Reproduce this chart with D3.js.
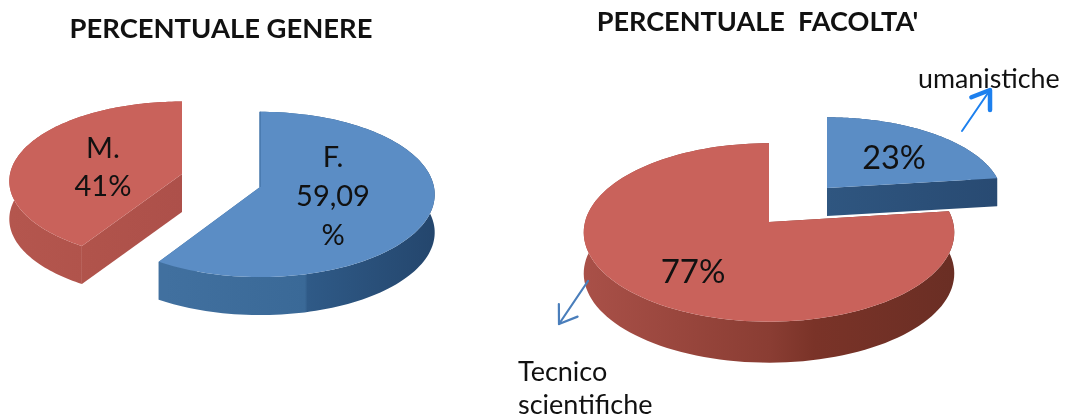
<!DOCTYPE html>
<html><head><meta charset="utf-8">
<script src="https://cdn.jsdelivr.net/npm/d3@7"></script>
<style>html,body{margin:0;background:#fff}svg{display:block;filter:blur(0.45px)}text{font-family:Lato,"Open Sans",sans-serif;fill:#111}</style>
</head><body><svg id="c" width="1065" height="419"></svg>
<script>
const genereCategories = ["F.", "M."];
const genereValues = [59.09, 41];
const genereLabels = [["F.", "59,09", "%"], ["M.", "41%"]];
const facoltaCategories = ["umanistiche", "Tecnico scientifiche"];
const facoltaValues = [23, 77];
const facoltaLabels = [["23%"], ["77%"]];
const titles = ["PERCENTUALE GENERE", "PERCENTUALE  FACOLTA'"];

const svg = d3.select("#c");
const defs = svg.append("defs");
function grad(id, stops, x1, x2) {
  const g = defs.append("linearGradient").attr("id", id).attr("gradientUnits", "userSpaceOnUse")
    .attr("x1", x1).attr("x2", x2).attr("y1", 0).attr("y2", 0);
  stops.forEach(s => g.append("stop").attr("offset", s[0]).attr("stop-color", s[1]));
}
grad("wB", [[0, "#41709f"], [0.52, "#3a6997"], [0.53, "#2f5a87"], [1, "#24466d"]], 165, 434);
grad("wM", [[0, "#b4564e"], [0.5, "#b0534b"], [1, "#ad504a"]], 10, 182);
grad("wN", [[0, "#2f5680"], [1, "#284a72"]], 827, 998);
grad("wR", [[0, "#a95048"], [0.5, "#8a3d33"], [0.62, "#7a3328"], [1, "#6a2e24"]], 584, 956);

const pie = d3.pie().sort(null).startAngle(0).endAngle(2 * Math.PI);
function project(s, a, r) {
  const u = Math.sin(a) * r, v = -Math.cos(a) * r, w = 1 - s.k * v;
  return [s.cx + s.rx * u / w, s.cy + s.ry * v / w];
}
const line = d3.line();
function rim(s, a0, a1) {
  return d3.range(0, 121).map(i => project(s, a0 + (a1 - a0) * i / 120, 1));
}
function drawSlice(arc, s) {
  const top = rim(s, arc.startAngle, arc.endAngle);
  const down = p => [p[0], p[1] + s.depth];
  const apex = [s.cx, s.cy];
  const wall = top.concat(top.slice().reverse().map(down));
  const g = svg.append("g");
  g.append("path").attr("d", line(wall) + "Z").attr("fill", s.wall);
  [top[0], top[top.length - 1]].forEach(e => {
    g.append("path").attr("d", line([apex, e, down(e), down(apex)]) + "Z").attr("fill", s.wall);
  });
  g.append("path").attr("d", line([apex].concat(top)) + "Z").attr("fill", s.top);
  if (s.edge) {
    g.append("path").attr("d", line([apex, top[0]])).attr("stroke", s.edge).attr("stroke-width", 1.5).attr("fill", "none");
  }
}
const genereSlices = [
  {cx: 260, cy: 187, rx: 174, ry: 82, k: 0.09, depth: 38, top: "#5b8dc5", wall: "url(#wB)", edge: "#4576aa"},
  {cx: 182, cy: 174, rx: 172, ry: 79, k: 0.09, depth: 38, top: "#c9625b", wall: "url(#wM)"}
];
const facoltaSlices = [
  {cx: 827, cy: 188, rx: 174, ry: 79, k: 0.117, depth: 28, top: "#5b8dc5", wall: "url(#wN)"},
  {cx: 769, cy: 222, rx: 184, ry: 88, k: 0.117, depth: 41, top: "#c9625b", wall: "url(#wR)"}
];
pie(genereValues).forEach((a, i) => drawSlice(a, genereSlices[i]));
pie(facoltaValues).forEach((a, i) => drawSlice(a, facoltaSlices[i]));

function label(lines, x, ys, size, anchor) {
  lines.forEach((t, i) => svg.append("text").attr("x", x).attr("y", ys[i])
    .attr("text-anchor", anchor || "middle").attr("font-size", size).text(t));
}
label(genereLabels[0], 333, [167, 206, 245], 29);
label(genereLabels[1], 103, [158, 196], 29);
label(facoltaLabels[0], 894, [169], 32.5);
label(facoltaLabels[1], 693, [283], 33);
label([facoltaCategories[0]], 918, [88], 26.8, "start");
label(["Tecnico", "scientifiche"], 518, [381, 414], 27, "start");

svg.append("text").attr("x", 221).attr("y", 38).attr("text-anchor", "middle")
  .attr("font-size", 27.4).attr("font-weight", 700).attr("fill", "#000").text(titles[0]);
svg.append("text").attr("x", 757.5).attr("y", 31).attr("text-anchor", "middle")
  .attr("font-size", 27.1).attr("font-weight", 700).attr("fill", "#000")
  .style("white-space", "pre").text(titles[1]);

function arrow(x0, y0, x1, y1, color, w, hw, hs) {
  const a = Math.atan2(y1 - y0, x1 - x0), h = 20;
  const g = svg.append("g").attr("fill", "none").attr("stroke", color).attr("stroke-linecap", "round");
  g.append("path").attr("d", line([[x0, y0], [x1, y1]])).attr("stroke-width", w);
  g.append("path").attr("stroke-width", hw).attr("stroke-linejoin", "round").attr("d", line([
    [x1 - h * Math.cos(a - hs), y1 - h * Math.sin(a - hs)], [x1, y1],
    [x1 - h * Math.cos(a + hs), y1 - h * Math.sin(a + hs)]]));
}
arrow(962, 131, 990, 90, "#1d80ee", 2, 4.5, 0.6);
arrow(588, 281, 559, 324, "#4a7ebb", 2.2, 2.2, 0.6);
</script></body></html>
